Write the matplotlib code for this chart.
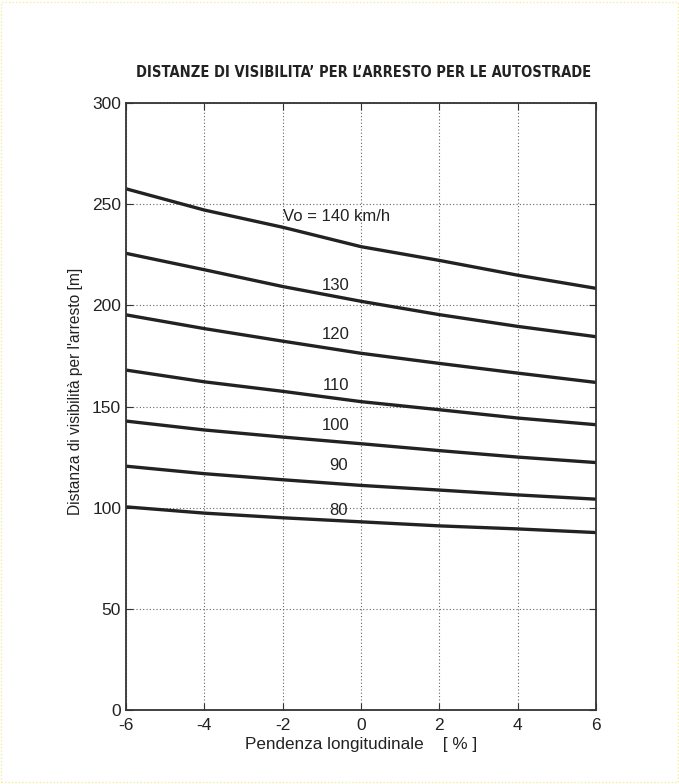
import numpy as np
import matplotlib
matplotlib.use("Agg")
import matplotlib.pyplot as plt
from matplotlib.patches import Rectangle

# pendenza longitudinale [%]
pendenza = [-6, -4, -2, 0, 2, 4, 6]

# distanze di visibilita' per l'arresto [m] per velocita' di progetto
velocita = [140, 130, 120, 110, 100, 90, 80]
distanze = {
    140: [257.6, 247.1, 238.6, 229.0, 222.2, 214.9, 208.4],
    130: [225.7, 217.6, 209.3, 202.0, 195.4, 189.6, 184.5],
    120: [195.3, 188.5, 182.3, 176.3, 171.3, 166.5, 161.9],
    110: [168.0, 162.2, 157.5, 152.4, 148.4, 144.3, 141.0],
    100: [142.8, 138.4, 134.9, 131.6, 128.2, 125.0, 122.3],
    90:  [120.5, 116.8, 113.8, 111.0, 108.7, 106.3, 104.2],
    80:  [100.4, 97.3, 95.0, 93.0, 91.0, 89.5, 87.7],
}
etichette = {
    140: ("Vo = 140 km/h", -2.0, 244.0, "left"),
    130: ("130", -0.65, 210.0, "center"),
    120: ("120", -0.65, 185.4, "center"),
    110: ("110", -0.65, 160.2, "center"),
    100: ("100", -0.65, 140.4, "center"),
    90:  ("90", -0.57, 120.8, "center"),
    80:  ("80", -0.57, 98.6, "center"),
}

plt.rcParams["font.family"] = ["Liberation Sans", "DejaVu Sans"]
plt.rcParams["axes.unicode_minus"] = False

fig = plt.figure(figsize=(6.79, 7.84), dpi=100)
ax = fig.add_axes([0.1856, 0.0944, 0.6922, 0.7742])

for v in velocita:
    ax.plot(pendenza, distanze[v], color="#222222", linewidth=2.4,
            solid_capstyle="butt")
    testo, tx, ty, ha = etichette[v]
    ax.text(tx, ty, testo, fontsize=12, ha=ha, va="center", color="#222222")

ax.set_xlim(-6, 6)
ax.set_ylim(0, 300)
ax.set_xticks(np.arange(-6, 7, 2))
ax.set_yticks(np.arange(0, 301, 50))
ax.grid(True, linestyle=(0, (1, 2)), color="#666666", linewidth=0.8)
ax.tick_params(direction="in", top=True, right=True, labelsize=12.5,
               length=5, color="#333333", labelcolor="#222222")
ax.tick_params(axis="x", pad=6)
for s in ax.spines.values():
    s.set_color("#333333")
    s.set_linewidth(1.3)

ax.set_xlabel("Pendenza longitudinale    [ % ]", fontsize=12.3, color="#222222",
              labelpad=3)
ax.set_ylabel("Distanza di visibilità per l'arresto [m]", fontsize=11.2,
              color="#222222")
ax.yaxis.set_label_coords(-0.092, 0.525)

fig.text(0.535, 0.908, "DISTANZE DI VISIBILITA\u2019 PER L\u2019ARRESTO PER LE AUTOSTRADE",
         ha="center", va="center", fontsize=10.5, fontweight="bold",
         fontstretch="condensed", family=["DejaVu Sans"],
         color="#222222")

# bordo puntinato della tavola
fig.patches.append(Rectangle((0.002, 0.002), 0.996, 0.996, transform=fig.transFigure,
                             fill=False, edgecolor="#f3eda0", linewidth=1.0,
                             linestyle=(0, (1, 1.5))))

fig.savefig("out.png", dpi=100, facecolor="white")
